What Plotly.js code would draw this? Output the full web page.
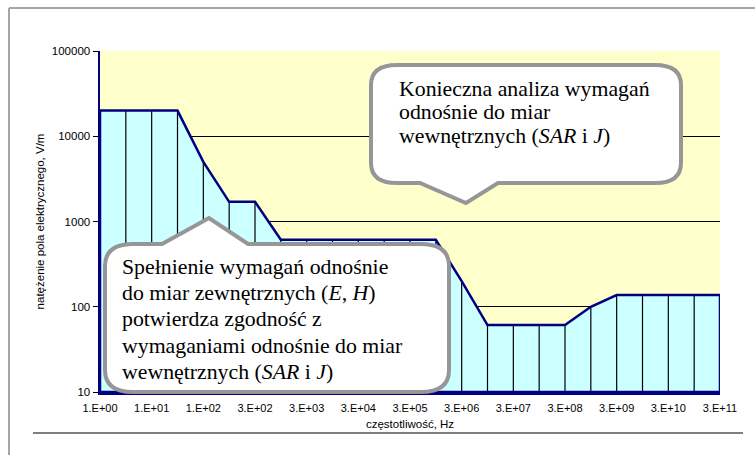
<!DOCTYPE html>
<html>
<head>
<meta charset="utf-8">
<script src="https://cdn.plot.ly/plotly-3.0.1.min.js"></script>
<style>
html,body{margin:0;padding:0;background:#fff;overflow:hidden;width:755px;height:455px;}
::-webkit-scrollbar{width:0;height:0;display:none;}
#chart{width:755px;height:455px;overflow:hidden;position:absolute;left:0;top:0;}
</style>
</head>
<body>
<div id="chart"></div>
<script>
// category index of each data point (25 categories, every other one labelled)
const categoryIndex = [0,1,2,3,4,5,6,7,8,9,10,11,12,13,14,15,16,17,18,19,20,21,22,23,24];
// electric field strength limit, V/m
const fieldStrength = [20000,20000,20000,20000,5000,1700,1700,610,610,610,610,610,610,610,200,61,61,61,61,100,137,137,137,137,137];
// labelled categories
const tickPositions = [0,2,4,6,8,10,12,14,16,18,20,22,24];
const tickLabels = ["1.E+00","1.E+01","1.E+02","3.E+02","3.E+03","3.E+04","3.E+05","3.E+06","3.E+07","3.E+08","3.E+09","3.E+10","3.E+11"];
const yTickValues = [10,100,1000,10000,100000];
const yTickLabels = ["10","100","1000","10000","100000"];
// callout texts
const upperCalloutLines = ['Konieczna analiza wymagań', 'odnośnie do miar', 'wewnętrznych (<i>SAR</i> i <i>J</i>)'];
const lowerCalloutLines = ['Spełnienie wymagań odnośnie', 'do miar zewnętrznych (<i>E</i>, <i>H</i>)', 'potwierdza zgodność z', 'wymaganiami odnośnie do miar', 'wewnętrznych (<i>SAR</i> i <i>J</i>)'];

const baseValue = 10;

// closed polygon of the area (down to the axis base)
const polyX = [categoryIndex[0]].concat(categoryIndex, [categoryIndex[categoryIndex.length-1], categoryIndex[0]]);
const polyY = [baseValue].concat(fieldStrength, [baseValue, baseValue]);

// drop lines
const dropX = [], dropY = [];
categoryIndex.forEach((c, i) => { dropX.push(c, c, null); dropY.push(baseValue, fieldStrength[i], null); });

const traces = [
  {x: polyX, y: polyY, type: 'scatter', mode: 'lines', fill: 'toself', fillcolor: '#CCFFFF',
   line: {width: 0, color: 'rgba(0,0,0,0)'}, hoverinfo: 'skip', showlegend: false},
  {x: dropX, y: dropY, type: 'scatter', mode: 'lines', line: {color: '#000000', width: 1.2},
   hoverinfo: 'skip', showlegend: false},
  {x: polyX, y: polyY, type: 'scatter', mode: 'lines', line: {color: '#000080', width: 2.5},
   hoverinfo: 'skip', showlegend: false}
];

// pixel -> paper helpers (plot area: 100..720 x 51..392)
const PL = 100, PT = 51, PW = 620, PH = 341;
const X = px => +((px - PL) / PW).toFixed(5);
const Y = py => +((PT + PH - py) / PH).toFixed(5);
const P = (px, py) => X(px) + ',' + Y(py);

function bubbleBottom(L, T, R, B, rx, ry, p1, tip, p2) {
  return 'M ' + P(L + rx, T) + ' L ' + P(R - rx, T) + ' Q ' + P(R, T) + ' ' + P(R, T + ry) +
    ' L ' + P(R, B - ry) + ' Q ' + P(R, B) + ' ' + P(R - rx, B) +
    ' L ' + P(p2, B) + ' L ' + P(tip[0], tip[1]) + ' L ' + P(p1, B) +
    ' L ' + P(L + rx, B) + ' Q ' + P(L, B) + ' ' + P(L, B - ry) +
    ' L ' + P(L, T + ry) + ' Q ' + P(L, T) + ' ' + P(L + rx, T) + ' Z';
}
function bubbleTop(L, T, R, B, rx, ry, p1, tip, p2) {
  return 'M ' + P(L + rx, T) + ' L ' + P(p1, T) + ' L ' + P(tip[0], tip[1]) + ' L ' + P(p2, T) +
    ' L ' + P(R - rx, T) + ' Q ' + P(R, T) + ' ' + P(R, T + ry) +
    ' L ' + P(R, B - ry) + ' Q ' + P(R, B) + ' ' + P(R - rx, B) +
    ' L ' + P(L + rx, B) + ' Q ' + P(L, B) + ' ' + P(L, B - ry) +
    ' L ' + P(L, T + ry) + ' Q ' + P(L, T) + ' ' + P(L + rx, T) + ' Z';
}

const shapes = [
  {type: 'line', xref: 'paper', yref: 'paper', x0: X(9), x1: X(755), y0: Y(8), y1: Y(8),
   line: {color: '#A6A6A6', width: 2}},
  {type: 'line', xref: 'paper', yref: 'paper', x0: X(9), x1: X(9), y0: Y(8), y1: Y(455),
   line: {color: '#A6A6A6', width: 2}},
  {type: 'line', xref: 'paper', yref: 'paper', x0: X(33), x1: X(743), y0: Y(433), y1: Y(433),
   line: {color: '#000000', width: 1.2}},
  {type: 'path', xref: 'paper', yref: 'paper', layer: 'above',
   path: bubbleBottom(371, 65, 681, 183, 26, 20, 420, [466, 203], 498),
   line: {color: '#969696', width: 4}, fillcolor: '#FFFFFF'},
  {type: 'path', xref: 'paper', yref: 'paper', layer: 'above',
   path: bubbleTop(105, 244, 449, 392, 28, 22, 162, [209, 218], 248),
   line: {color: '#969696', width: 4}, fillcolor: '#FFFFFF'}
];

const serif = {family: '"Liberation Serif", "Times New Roman", serif', size: 21.8, color: '#000000'};
const annotations = [];
const upperCenters = [89, 112.5, 136];
upperCalloutLines.forEach((t, i) => annotations.push({
  xref: 'paper', yref: 'paper', x: X(397), y: Y(upperCenters[i]), xanchor: 'left', yanchor: 'middle',
  align: 'left', showarrow: false, font: serif, text: t}));
const lowerCenters = [267, 293, 319.5, 345.5, 372];
lowerCalloutLines.forEach((t, i) => annotations.push({
  xref: 'paper', yref: 'paper', x: X(120), y: Y(lowerCenters[i]), xanchor: 'left', yanchor: 'middle',
  align: 'left', showarrow: false, font: serif, text: t}));

const sans = '"Liberation Sans", Arial, sans-serif';
const layout = {
  width: 755, height: 455,
  margin: {l: PL, r: 755 - PL - PW, t: PT, b: 455 - PT - PH, pad: 0},
  paper_bgcolor: '#FFFFFF', plot_bgcolor: '#FFFFCC',
  font: {family: sans, size: 11.5, color: '#000000'},
  showlegend: false,
  xaxis: {
    range: [categoryIndex[0], categoryIndex[categoryIndex.length - 1]],
    tickmode: 'array', tickvals: tickPositions, ticktext: tickLabels,
    showgrid: false, zeroline: false, ticks: 'outside', ticklen: 4, tickcolor: 'rgba(0,0,0,0)',
    showline: true, linecolor: '#000080', linewidth: 2.5,
    tickfont: {family: sans, size: 11, color: '#000000'},
    title: {text: 'częstotliwość, Hz', font: {family: sans, size: 11.5, color: '#000000'}, standoff: 7},
    automargin: false, fixedrange: true
  },
  yaxis: {
    type: 'log', range: [1, 5],
    tickmode: 'array', tickvals: yTickValues, ticktext: yTickLabels,
    showgrid: true, gridcolor: '#000000', gridwidth: 1, zeroline: false,
    ticks: 'outside', ticklen: 5, tickcolor: '#000000', tickwidth: 1,
    showline: true, linecolor: '#000080', linewidth: 2.5,
    tickfont: {family: sans, size: 11.5, color: '#000000'},
    title: {text: 'natężenie pola elektrycznego, V/m', font: {family: sans, size: 11.5, color: '#000000'}, standoff: 5},
    automargin: false, fixedrange: true
  },
  shapes: shapes,
  annotations: annotations
};

Plotly.newPlot('chart', traces, layout, {displayModeBar: false, staticPlot: true});
</script>
</body>
</html>
